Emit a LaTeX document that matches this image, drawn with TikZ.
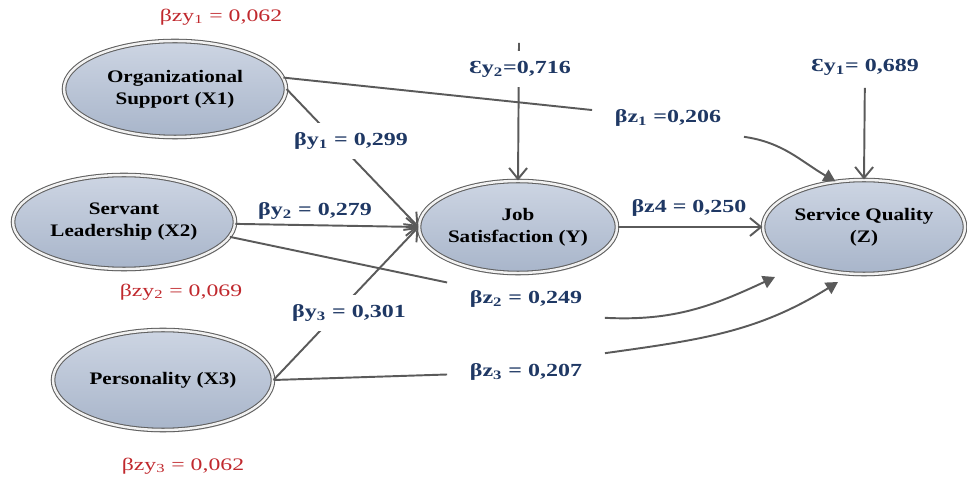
\documentclass[tikz,border=0pt]{standalone}
\usepackage{fontspec}
\setmainfont{Liberation Serif}
\newfontfamily\varfont[FakeStretch=1.2]{Liberation Serif}
\newfontfamily\coeffont[FakeStretch=1.3]{Liberation Serif}
\newfontfamily\errfont[FakeStretch=1.35]{Liberation Serif}
\usetikzlibrary{shapes.geometric,arrows.meta,shadows}

\definecolor{coefblue}{HTML}{1F3864}
\definecolor{errred}{HTML}{C0282D}
\definecolor{pathgray}{HTML}{5A5A5A}
\definecolor{latenttop}{HTML}{CDD5E3}
\definecolor{latentmid}{HTML}{B9C4D6}
\definecolor{latentbot}{HTML}{A8B5CA}

\newcommand\ix[1]{\textsubscript{#1}}

\tikzset{
  latent/.style={ellipse, draw=gray!75!black, line width=0.6pt, double=gray!10,
    double distance=1.4pt, top color=latenttop, middle color=latentmid,
    bottom color=latentbot, inner sep=0pt, align=center,
    drop shadow={shadow xshift=0.4pt, shadow yshift=-1.4pt, opacity=0.35, fill=gray},
    font=\varfont\bfseries\fontsize{10}{12.5}\selectfont},
  coef/.style={text=coefblue, inner sep=1pt,
    font=\coeffont\bfseries\fontsize{10.5}{12}\selectfont},
  gap/.style={coef, fill=white, inner ysep=2mm},
  brk/.style={coef, inner xsep=4.5mm, inner ysep=2mm},
  err/.style={text=errred, font=\errfont\fontsize{10}{12}\selectfont},
  ln/.style={draw=pathgray, line width=1.1pt},
  arr/.style={ln, -{Straight Barb[length=2.2mm,width=3.6mm]}},
  carr/.style={ln, -{Triangle[length=2.4mm,width=2.6mm]}},
}

\begin{document}
\begin{tikzpicture}[x=0.2mm,y=0.2mm]
\useasboundingbox (0,0) rectangle (967,477);

\node[latent, minimum width=44.4mm, minimum height=19.2mm] (X1) at (175,388) {Organizational\\Support (X1)};
\node[latent, minimum width=44.4mm, minimum height=18.8mm] (X2) at (124,255) {Servant\\Leadership (X2)};
\node[latent, minimum width=44mm, minimum height=20mm] (X3) at (163,97) {Personality (X3)};
\node[latent, minimum width=38.4mm, minimum height=18.4mm] (Y) at (518,250) {Job\\Satisfaction (Y)};
\node[latent, minimum width=40.4mm, minimum height=18.8mm] (Z) at (864,250) {Service Quality\\(Z)};

\node[brk] (bz1) at (668,359) {βz\ix{1} =0,206};
\node[brk] (bz2) at (526,178) {βz\ix{2} = 0,249};
\node[brk] (bz3) at (526,105) {βz\ix{3} = 0,207};
\node[coef, inner ysep=2.5mm] (ey1) at (865,410) {Ɛy\ix{1}= 0,689};
\coordinate (e2top) at (519,434);
\coordinate (z2in) at (775,200);
\coordinate (z3in) at (838,195);

\path[arr] (X1.east) -- (Y.west);
\path[arr] (X2) -- (Y.west);
\path[arr] (X3.east) -- (Y.west);
\path[arr] (Y) -- (Z);
\path[arr] (e2top) -- (Y.north);
\path[arr] (ey1) -- (Z.north);

\path[ln] (X1.6) -- (bz1);
\path[carr] (bz1.south east) to[out=-8,in=150] (Z.122);
\path[ln] (X2.-8) -- (bz2);
\path[carr] (bz2.south east) to[out=-3,in=205] (z2in);
\path[ln] (X3.east) -- (bz3);
\path[carr] (bz3.north east) to[out=8,in=212] (z3in);

\node[gap] (by1) at (351,336) {βy\ix{1} = 0,299};
\node[coef] (by2) at (315,266) {βy\ix{2} = 0,279};
\node[gap] (by3) at (349,164) {βy\ix{3} = 0,301};
\node[gap] (ey2) at (520,408) {Ɛy\ix{2}=0,716};
\node[coef] (bz4) at (689,269) {βz4 = 0,250};

\node[err] (zy1) at (221,460) {βzy\ix{1} = 0,062};
\node[err] (zy2) at (181,185) {βzy\ix{2} = 0,069};
\node[err] (zy3) at (183,11) {βzy\ix{3} = 0,062};
\end{tikzpicture}
\end{document}
